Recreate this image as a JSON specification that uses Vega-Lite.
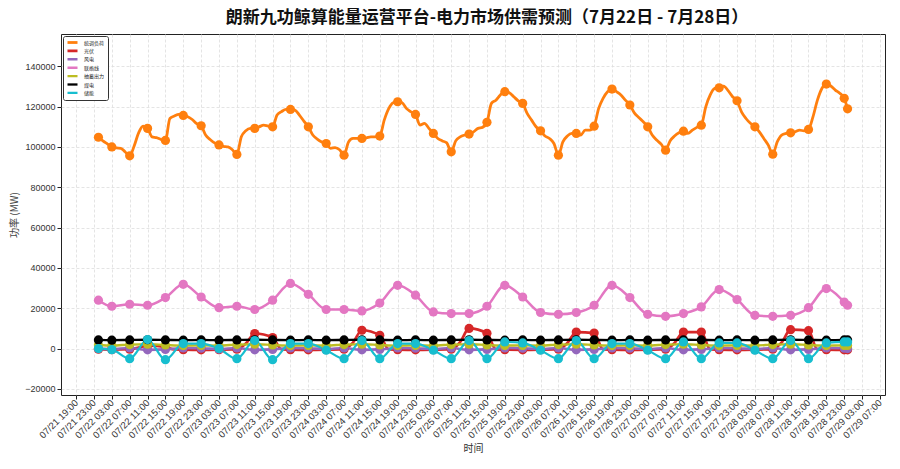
{
"$schema":"https://vega.github.io/schema/vega-lite/v6.json",
"width":824,"height":361,
"autosize":{"type":"none"},
"padding":{"left":61,"top":34,"right":15,"bottom":74},
"title":{"text":"朗新九功鲸算能量运营平台-电力市场供需预测（7月22日 - 7月28日）","font":"Noto Sans CJK SC","fontSize":17,"fontWeight":"bold","color":"#111","anchor":"middle","offset":7,"dx":14},
"data":{"format":{"parse":{"t":"date"}},"values":[
{"t":"2025-07-22T00:00","s":"统调负荷","v":104800},{"t":"2025-07-22T01:00","s":"统调负荷","v":103000},{"t":"2025-07-22T02:00","s":"统调负荷","v":101500},{"t":"2025-07-22T03:00","s":"统调负荷","v":100000},{"t":"2025-07-22T04:00","s":"统调负荷","v":99500},{"t":"2025-07-22T05:00","s":"统调负荷","v":99300},{"t":"2025-07-22T06:00","s":"统调负荷","v":97500},{"t":"2025-07-22T07:00","s":"统调负荷","v":95600},{"t":"2025-07-22T08:00","s":"统调负荷","v":100500},{"t":"2025-07-22T09:00","s":"统调负荷","v":107000},{"t":"2025-07-22T10:00","s":"统调负荷","v":110300},{"t":"2025-07-22T11:00","s":"统调负荷","v":109200},{"t":"2025-07-22T12:00","s":"统调负荷","v":105000},{"t":"2025-07-22T13:00","s":"统调负荷","v":104600},{"t":"2025-07-22T14:00","s":"统调负荷","v":103700},{"t":"2025-07-22T15:00","s":"统调负荷","v":103200},{"t":"2025-07-22T16:00","s":"统调负荷","v":114100},{"t":"2025-07-22T17:00","s":"统调负荷","v":115300},{"t":"2025-07-22T18:00","s":"统调负荷","v":116100},{"t":"2025-07-22T19:00","s":"统调负荷","v":115600},{"t":"2025-07-22T20:00","s":"统调负荷","v":115000},{"t":"2025-07-22T21:00","s":"统调负荷","v":113600},{"t":"2025-07-22T22:00","s":"统调负荷","v":111600},{"t":"2025-07-22T23:00","s":"统调负荷","v":110500},
{"t":"2025-07-23T00:00","s":"统调负荷","v":105900},{"t":"2025-07-23T01:00","s":"统调负荷","v":103700},{"t":"2025-07-23T02:00","s":"统调负荷","v":102000},{"t":"2025-07-23T03:00","s":"统调负荷","v":101000},{"t":"2025-07-23T04:00","s":"统调负荷","v":100300},{"t":"2025-07-23T05:00","s":"统调负荷","v":100000},{"t":"2025-07-23T06:00","s":"统调负荷","v":98600},{"t":"2025-07-23T07:00","s":"统调负荷","v":96300},{"t":"2025-07-23T08:00","s":"统调负荷","v":105000},{"t":"2025-07-23T09:00","s":"统调负荷","v":108000},{"t":"2025-07-23T10:00","s":"统调负荷","v":109200},{"t":"2025-07-23T11:00","s":"统调负荷","v":109200},{"t":"2025-07-23T12:00","s":"统调负荷","v":110000},{"t":"2025-07-23T13:00","s":"统调负荷","v":110800},{"t":"2025-07-23T14:00","s":"统调负荷","v":110300},{"t":"2025-07-23T15:00","s":"统调负荷","v":110000},{"t":"2025-07-23T16:00","s":"统调负荷","v":115800},{"t":"2025-07-23T17:00","s":"统调负荷","v":117500},{"t":"2025-07-23T18:00","s":"统调负荷","v":118600},{"t":"2025-07-23T19:00","s":"统调负荷","v":118600},{"t":"2025-07-23T20:00","s":"统调负荷","v":118300},{"t":"2025-07-23T21:00","s":"统调负荷","v":115800},{"t":"2025-07-23T22:00","s":"统调负荷","v":112800},{"t":"2025-07-23T23:00","s":"统调负荷","v":110000},
{"t":"2025-07-24T00:00","s":"统调负荷","v":105900},{"t":"2025-07-24T01:00","s":"统调负荷","v":103900},{"t":"2025-07-24T02:00","s":"统调负荷","v":102500},{"t":"2025-07-24T03:00","s":"统调负荷","v":101700},{"t":"2025-07-24T04:00","s":"统调负荷","v":99300},{"t":"2025-07-24T05:00","s":"统调负荷","v":99700},{"t":"2025-07-24T06:00","s":"统调负荷","v":98600},{"t":"2025-07-24T07:00","s":"统调负荷","v":95900},{"t":"2025-07-24T08:00","s":"统调负荷","v":102500},{"t":"2025-07-24T09:00","s":"统调负荷","v":104200},{"t":"2025-07-24T10:00","s":"统调负荷","v":104200},{"t":"2025-07-24T11:00","s":"统调负荷","v":104200},{"t":"2025-07-24T12:00","s":"统调负荷","v":104500},{"t":"2025-07-24T13:00","s":"统调负荷","v":105000},{"t":"2025-07-24T14:00","s":"统调负荷","v":105000},{"t":"2025-07-24T15:00","s":"统调负荷","v":105400},{"t":"2025-07-24T16:00","s":"统调负荷","v":113300},{"t":"2025-07-24T17:00","s":"统调负荷","v":119000},{"t":"2025-07-24T18:00","s":"统调负荷","v":121900},{"t":"2025-07-24T19:00","s":"统调负荷","v":122400},{"t":"2025-07-24T20:00","s":"统调负荷","v":121900},{"t":"2025-07-24T21:00","s":"统调负荷","v":119000},{"t":"2025-07-24T22:00","s":"统调负荷","v":117400},{"t":"2025-07-24T23:00","s":"统调负荷","v":116100},
{"t":"2025-07-25T00:00","s":"统调负荷","v":110800},{"t":"2025-07-25T01:00","s":"统调负荷","v":111700},{"t":"2025-07-25T02:00","s":"统调负荷","v":109200},{"t":"2025-07-25T03:00","s":"统调负荷","v":106700},{"t":"2025-07-25T04:00","s":"统调负荷","v":104200},{"t":"2025-07-25T05:00","s":"统调负荷","v":103000},{"t":"2025-07-25T06:00","s":"统调负荷","v":102000},{"t":"2025-07-25T07:00","s":"统调负荷","v":97600},{"t":"2025-07-25T08:00","s":"统调负荷","v":103000},{"t":"2025-07-25T09:00","s":"统调负荷","v":105000},{"t":"2025-07-25T10:00","s":"统调负荷","v":105900},{"t":"2025-07-25T11:00","s":"统调负荷","v":106400},{"t":"2025-07-25T12:00","s":"统调负荷","v":107500},{"t":"2025-07-25T13:00","s":"统调负荷","v":109200},{"t":"2025-07-25T14:00","s":"统调负荷","v":109700},{"t":"2025-07-25T15:00","s":"统调负荷","v":112200},{"t":"2025-07-25T16:00","s":"统调负荷","v":121600},{"t":"2025-07-25T17:00","s":"统调负荷","v":123200},{"t":"2025-07-25T18:00","s":"统调负荷","v":125800},{"t":"2025-07-25T19:00","s":"统调负荷","v":127400},{"t":"2025-07-25T20:00","s":"统调负荷","v":126900},{"t":"2025-07-25T21:00","s":"统调负荷","v":124900},{"t":"2025-07-25T22:00","s":"统调负荷","v":122900},{"t":"2025-07-25T23:00","s":"统调负荷","v":121600},
{"t":"2025-07-26T00:00","s":"统调负荷","v":116600},{"t":"2025-07-26T01:00","s":"统调负荷","v":113300},{"t":"2025-07-26T02:00","s":"统调负荷","v":110000},{"t":"2025-07-26T03:00","s":"统调负荷","v":108000},{"t":"2025-07-26T04:00","s":"统调负荷","v":105400},{"t":"2025-07-26T05:00","s":"统调负荷","v":104200},{"t":"2025-07-26T06:00","s":"统调负荷","v":101700},{"t":"2025-07-26T07:00","s":"统调负荷","v":95900},{"t":"2025-07-26T08:00","s":"统调负荷","v":102500},{"t":"2025-07-26T09:00","s":"统调负荷","v":105400},{"t":"2025-07-26T10:00","s":"统调负荷","v":106700},{"t":"2025-07-26T11:00","s":"统调负荷","v":106700},{"t":"2025-07-26T12:00","s":"统调负荷","v":105900},{"t":"2025-07-26T13:00","s":"统调负荷","v":108300},{"t":"2025-07-26T14:00","s":"统调负荷","v":108300},{"t":"2025-07-26T15:00","s":"统调负荷","v":110300},{"t":"2025-07-26T16:00","s":"统调负荷","v":119000},{"t":"2025-07-26T17:00","s":"统调负荷","v":124100},{"t":"2025-07-26T18:00","s":"统调负荷","v":127400},{"t":"2025-07-26T19:00","s":"统调负荷","v":128700},{"t":"2025-07-26T20:00","s":"统调负荷","v":127400},{"t":"2025-07-26T21:00","s":"统调负荷","v":125800},{"t":"2025-07-26T22:00","s":"统调负荷","v":123200},{"t":"2025-07-26T23:00","s":"统调负荷","v":120800},
{"t":"2025-07-27T00:00","s":"统调负荷","v":116900},{"t":"2025-07-27T01:00","s":"统调负荷","v":114600},{"t":"2025-07-27T02:00","s":"统调负荷","v":112500},{"t":"2025-07-27T03:00","s":"统调负荷","v":110000},{"t":"2025-07-27T04:00","s":"统调负荷","v":105900},{"t":"2025-07-27T05:00","s":"统调负荷","v":103400},{"t":"2025-07-27T06:00","s":"统调负荷","v":101400},{"t":"2025-07-27T07:00","s":"统调负荷","v":98400},{"t":"2025-07-27T08:00","s":"统调负荷","v":103000},{"t":"2025-07-27T09:00","s":"统调负荷","v":105400},{"t":"2025-07-27T10:00","s":"统调负荷","v":107000},{"t":"2025-07-27T11:00","s":"统调负荷","v":107800},{"t":"2025-07-27T12:00","s":"统调负荷","v":106700},{"t":"2025-07-27T13:00","s":"统调负荷","v":108300},{"t":"2025-07-27T14:00","s":"统调负荷","v":109700},{"t":"2025-07-27T15:00","s":"统调负荷","v":110800},{"t":"2025-07-27T16:00","s":"统调负荷","v":119900},{"t":"2025-07-27T17:00","s":"统调负荷","v":125800},{"t":"2025-07-27T18:00","s":"统调负荷","v":129000},{"t":"2025-07-27T19:00","s":"统调负荷","v":129300},{"t":"2025-07-27T20:00","s":"统调负荷","v":130200},{"t":"2025-07-27T21:00","s":"统调负荷","v":127900},{"t":"2025-07-27T22:00","s":"统调负荷","v":124900},{"t":"2025-07-27T23:00","s":"统调负荷","v":122900},
{"t":"2025-07-28T00:00","s":"统调负荷","v":117400},{"t":"2025-07-28T01:00","s":"统调负荷","v":114100},{"t":"2025-07-28T02:00","s":"统调负荷","v":111700},{"t":"2025-07-28T03:00","s":"统调负荷","v":110000},{"t":"2025-07-28T04:00","s":"统调负荷","v":107500},{"t":"2025-07-28T05:00","s":"统调负荷","v":104200},{"t":"2025-07-28T06:00","s":"统调负荷","v":100900},{"t":"2025-07-28T07:00","s":"统调负荷","v":96400},{"t":"2025-07-28T08:00","s":"统调负荷","v":102500},{"t":"2025-07-28T09:00","s":"统调负荷","v":105900},{"t":"2025-07-28T10:00","s":"统调负荷","v":106700},{"t":"2025-07-28T11:00","s":"统调负荷","v":107000},{"t":"2025-07-28T12:00","s":"统调负荷","v":107500},{"t":"2025-07-28T13:00","s":"统调负荷","v":108300},{"t":"2025-07-28T14:00","s":"统调负荷","v":108000},{"t":"2025-07-28T15:00","s":"统调负荷","v":108700},{"t":"2025-07-28T16:00","s":"统调负荷","v":114900},{"t":"2025-07-28T17:00","s":"统调负荷","v":123200},{"t":"2025-07-28T18:00","s":"统调负荷","v":129000},{"t":"2025-07-28T19:00","s":"统调负荷","v":131200},{"t":"2025-07-28T20:00","s":"统调负荷","v":130200},{"t":"2025-07-28T21:00","s":"统调负荷","v":128200},{"t":"2025-07-28T22:00","s":"统调负荷","v":126600},{"t":"2025-07-28T23:00","s":"统调负荷","v":124100},{"t":"2025-07-28T23:45","s":"统调负荷","v":118900},

{"t":"2025-07-22T00:00","s":"光伏","v":-300},{"t":"2025-07-22T03:00","s":"光伏","v":-500},{"t":"2025-07-22T07:00","s":"光伏","v":-300},{"t":"2025-07-22T09:00","s":"光伏","v":500},{"t":"2025-07-22T11:00","s":"光伏","v":1500},{"t":"2025-07-22T15:00","s":"光伏","v":800},{"t":"2025-07-22T17:00","s":"光伏","v":-400},{"t":"2025-07-22T19:00","s":"光伏","v":-500},{"t":"2025-07-22T23:00","s":"光伏","v":-600},
{"t":"2025-07-23T03:00","s":"光伏","v":-500},{"t":"2025-07-23T07:00","s":"光伏","v":-300},{"t":"2025-07-23T09:00","s":"光伏","v":2500},{"t":"2025-07-23T11:00","s":"光伏","v":7500},{"t":"2025-07-23T15:00","s":"光伏","v":5500},{"t":"2025-07-23T17:00","s":"光伏","v":-400},{"t":"2025-07-23T19:00","s":"光伏","v":-500},{"t":"2025-07-23T23:00","s":"光伏","v":-600},
{"t":"2025-07-24T03:00","s":"光伏","v":-500},{"t":"2025-07-24T07:00","s":"光伏","v":-300},{"t":"2025-07-24T09:00","s":"光伏","v":3000},{"t":"2025-07-24T11:00","s":"光伏","v":9100},{"t":"2025-07-24T15:00","s":"光伏","v":6600},{"t":"2025-07-24T17:00","s":"光伏","v":-400},{"t":"2025-07-24T19:00","s":"光伏","v":-500},{"t":"2025-07-24T23:00","s":"光伏","v":-600},
{"t":"2025-07-25T03:00","s":"光伏","v":-500},{"t":"2025-07-25T07:00","s":"光伏","v":-300},{"t":"2025-07-25T09:00","s":"光伏","v":3300},{"t":"2025-07-25T11:00","s":"光伏","v":10000},{"t":"2025-07-25T15:00","s":"光伏","v":7600},{"t":"2025-07-25T17:00","s":"光伏","v":-400},{"t":"2025-07-25T19:00","s":"光伏","v":-500},{"t":"2025-07-25T23:00","s":"光伏","v":-600},
{"t":"2025-07-26T03:00","s":"光伏","v":-500},{"t":"2025-07-26T07:00","s":"光伏","v":-300},{"t":"2025-07-26T09:00","s":"光伏","v":2800},{"t":"2025-07-26T11:00","s":"光伏","v":8200},{"t":"2025-07-26T15:00","s":"光伏","v":7700},{"t":"2025-07-26T17:00","s":"光伏","v":-400},{"t":"2025-07-26T19:00","s":"光伏","v":-500},{"t":"2025-07-26T23:00","s":"光伏","v":-600},
{"t":"2025-07-27T03:00","s":"光伏","v":-500},{"t":"2025-07-27T07:00","s":"光伏","v":-300},{"t":"2025-07-27T09:00","s":"光伏","v":2800},{"t":"2025-07-27T11:00","s":"光伏","v":8200},{"t":"2025-07-27T15:00","s":"光伏","v":8200},{"t":"2025-07-27T17:00","s":"光伏","v":-400},{"t":"2025-07-27T19:00","s":"光伏","v":-500},{"t":"2025-07-27T23:00","s":"光伏","v":-600},
{"t":"2025-07-28T03:00","s":"光伏","v":-500},{"t":"2025-07-28T07:00","s":"光伏","v":-300},{"t":"2025-07-28T09:00","s":"光伏","v":3100},{"t":"2025-07-28T11:00","s":"光伏","v":9400},{"t":"2025-07-28T15:00","s":"光伏","v":8900},{"t":"2025-07-28T17:00","s":"光伏","v":-400},{"t":"2025-07-28T19:00","s":"光伏","v":-500},{"t":"2025-07-28T23:00","s":"光伏","v":-600},{"t":"2025-07-28T23:45","s":"光伏","v":-600},

{"t":"2025-07-22T00:00","s":"风电","v":0},{"t":"2025-07-22T03:00","s":"风电","v":-200},{"t":"2025-07-22T07:00","s":"风电","v":300},{"t":"2025-07-22T11:00","s":"风电","v":-600},{"t":"2025-07-22T15:00","s":"风电","v":-400},{"t":"2025-07-22T19:00","s":"风电","v":300},{"t":"2025-07-22T23:00","s":"风电","v":200},
{"t":"2025-07-23T03:00","s":"风电","v":-200},{"t":"2025-07-23T07:00","s":"风电","v":300},{"t":"2025-07-23T11:00","s":"风电","v":-600},{"t":"2025-07-23T15:00","s":"风电","v":-400},{"t":"2025-07-23T19:00","s":"风电","v":300},{"t":"2025-07-23T23:00","s":"风电","v":200},
{"t":"2025-07-24T03:00","s":"风电","v":-200},{"t":"2025-07-24T07:00","s":"风电","v":300},{"t":"2025-07-24T11:00","s":"风电","v":-600},{"t":"2025-07-24T15:00","s":"风电","v":-400},{"t":"2025-07-24T19:00","s":"风电","v":300},{"t":"2025-07-24T23:00","s":"风电","v":200},
{"t":"2025-07-25T03:00","s":"风电","v":-200},{"t":"2025-07-25T07:00","s":"风电","v":300},{"t":"2025-07-25T11:00","s":"风电","v":-600},{"t":"2025-07-25T15:00","s":"风电","v":-400},{"t":"2025-07-25T19:00","s":"风电","v":300},{"t":"2025-07-25T23:00","s":"风电","v":200},
{"t":"2025-07-26T03:00","s":"风电","v":-200},{"t":"2025-07-26T07:00","s":"风电","v":300},{"t":"2025-07-26T11:00","s":"风电","v":-600},{"t":"2025-07-26T15:00","s":"风电","v":-400},{"t":"2025-07-26T19:00","s":"风电","v":300},{"t":"2025-07-26T23:00","s":"风电","v":200},
{"t":"2025-07-27T03:00","s":"风电","v":-200},{"t":"2025-07-27T07:00","s":"风电","v":300},{"t":"2025-07-27T11:00","s":"风电","v":-600},{"t":"2025-07-27T15:00","s":"风电","v":-400},{"t":"2025-07-27T19:00","s":"风电","v":300},{"t":"2025-07-27T23:00","s":"风电","v":200},
{"t":"2025-07-28T03:00","s":"风电","v":-200},{"t":"2025-07-28T07:00","s":"风电","v":300},{"t":"2025-07-28T11:00","s":"风电","v":-600},{"t":"2025-07-28T15:00","s":"风电","v":-400},{"t":"2025-07-28T19:00","s":"风电","v":300},{"t":"2025-07-28T23:00","s":"风电","v":200},{"t":"2025-07-28T23:45","s":"风电","v":0},

{"t":"2025-07-22T00:00","s":"联络线","v":24000},{"t":"2025-07-22T03:00","s":"联络线","v":21000},{"t":"2025-07-22T07:00","s":"联络线","v":22000},{"t":"2025-07-22T11:00","s":"联络线","v":21500},{"t":"2025-07-22T15:00","s":"联络线","v":25300},{"t":"2025-07-22T19:00","s":"联络线","v":31900},{"t":"2025-07-22T23:00","s":"联络线","v":25600},
{"t":"2025-07-23T03:00","s":"联络线","v":20300},{"t":"2025-07-23T07:00","s":"联络线","v":21000},{"t":"2025-07-23T11:00","s":"联络线","v":19400},{"t":"2025-07-23T15:00","s":"联络线","v":24000},{"t":"2025-07-23T19:00","s":"联络线","v":32300},{"t":"2025-07-23T23:00","s":"联络线","v":26900},
{"t":"2025-07-24T03:00","s":"联络线","v":19400},{"t":"2025-07-24T07:00","s":"联络线","v":19400},{"t":"2025-07-24T11:00","s":"联络线","v":18700},{"t":"2025-07-24T15:00","s":"联络线","v":22600},{"t":"2025-07-24T19:00","s":"联络线","v":31400},{"t":"2025-07-24T23:00","s":"联络线","v":26500},
{"t":"2025-07-25T03:00","s":"联络线","v":18200},{"t":"2025-07-25T07:00","s":"联络线","v":17400},{"t":"2025-07-25T11:00","s":"联络线","v":17400},{"t":"2025-07-25T15:00","s":"联络线","v":21000},{"t":"2025-07-25T19:00","s":"联络线","v":31400},{"t":"2025-07-25T23:00","s":"联络线","v":25600},
{"t":"2025-07-26T03:00","s":"联络线","v":17900},{"t":"2025-07-26T07:00","s":"联络线","v":17000},{"t":"2025-07-26T11:00","s":"联络线","v":17900},{"t":"2025-07-26T15:00","s":"联络线","v":21500},{"t":"2025-07-26T19:00","s":"联络线","v":31400},{"t":"2025-07-26T23:00","s":"联络线","v":25300},
{"t":"2025-07-27T03:00","s":"联络线","v":17000},{"t":"2025-07-27T07:00","s":"联络线","v":16000},{"t":"2025-07-27T11:00","s":"联络线","v":17400},{"t":"2025-07-27T15:00","s":"联络线","v":20700},{"t":"2025-07-27T19:00","s":"联络线","v":29300},{"t":"2025-07-27T23:00","s":"联络线","v":24300},
{"t":"2025-07-28T03:00","s":"联络线","v":16500},{"t":"2025-07-28T07:00","s":"联络线","v":16000},{"t":"2025-07-28T11:00","s":"联络线","v":16500},{"t":"2025-07-28T15:00","s":"联络线","v":20300},{"t":"2025-07-28T19:00","s":"联络线","v":29800},{"t":"2025-07-28T23:00","s":"联络线","v":23100},{"t":"2025-07-28T23:45","s":"联络线","v":21500},

{"t":"2025-07-22T00:00","s":"抽蓄出力","v":1800},{"t":"2025-07-22T03:00","s":"抽蓄出力","v":1500},{"t":"2025-07-22T07:00","s":"抽蓄出力","v":2000},{"t":"2025-07-22T11:00","s":"抽蓄出力","v":2200},{"t":"2025-07-22T15:00","s":"抽蓄出力","v":1800},{"t":"2025-07-22T19:00","s":"抽蓄出力","v":1500},{"t":"2025-07-22T23:00","s":"抽蓄出力","v":1600},
{"t":"2025-07-23T03:00","s":"抽蓄出力","v":1500},{"t":"2025-07-23T07:00","s":"抽蓄出力","v":2000},{"t":"2025-07-23T11:00","s":"抽蓄出力","v":2200},{"t":"2025-07-23T15:00","s":"抽蓄出力","v":1800},{"t":"2025-07-23T19:00","s":"抽蓄出力","v":1500},{"t":"2025-07-23T23:00","s":"抽蓄出力","v":1600},
{"t":"2025-07-24T03:00","s":"抽蓄出力","v":1500},{"t":"2025-07-24T07:00","s":"抽蓄出力","v":2000},{"t":"2025-07-24T11:00","s":"抽蓄出力","v":2200},{"t":"2025-07-24T15:00","s":"抽蓄出力","v":1800},{"t":"2025-07-24T19:00","s":"抽蓄出力","v":1500},{"t":"2025-07-24T23:00","s":"抽蓄出力","v":1600},
{"t":"2025-07-25T03:00","s":"抽蓄出力","v":1500},{"t":"2025-07-25T07:00","s":"抽蓄出力","v":2000},{"t":"2025-07-25T11:00","s":"抽蓄出力","v":2200},{"t":"2025-07-25T15:00","s":"抽蓄出力","v":1800},{"t":"2025-07-25T19:00","s":"抽蓄出力","v":1500},{"t":"2025-07-25T23:00","s":"抽蓄出力","v":1600},
{"t":"2025-07-26T03:00","s":"抽蓄出力","v":1500},{"t":"2025-07-26T07:00","s":"抽蓄出力","v":2000},{"t":"2025-07-26T11:00","s":"抽蓄出力","v":2200},{"t":"2025-07-26T15:00","s":"抽蓄出力","v":1800},{"t":"2025-07-26T19:00","s":"抽蓄出力","v":1500},{"t":"2025-07-26T23:00","s":"抽蓄出力","v":1600},
{"t":"2025-07-27T03:00","s":"抽蓄出力","v":1500},{"t":"2025-07-27T07:00","s":"抽蓄出力","v":2000},{"t":"2025-07-27T11:00","s":"抽蓄出力","v":2200},{"t":"2025-07-27T15:00","s":"抽蓄出力","v":1800},{"t":"2025-07-27T19:00","s":"抽蓄出力","v":1500},{"t":"2025-07-27T23:00","s":"抽蓄出力","v":1600},
{"t":"2025-07-28T03:00","s":"抽蓄出力","v":1500},{"t":"2025-07-28T07:00","s":"抽蓄出力","v":2000},{"t":"2025-07-28T11:00","s":"抽蓄出力","v":2200},{"t":"2025-07-28T15:00","s":"抽蓄出力","v":1800},{"t":"2025-07-28T19:00","s":"抽蓄出力","v":1500},{"t":"2025-07-28T23:00","s":"抽蓄出力","v":1600},{"t":"2025-07-28T23:45","s":"抽蓄出力","v":1600},

{"t":"2025-07-22T00:00","s":"煤电","v":4300},{"t":"2025-07-22T03:00","s":"煤电","v":4200},{"t":"2025-07-22T07:00","s":"煤电","v":4300},{"t":"2025-07-22T11:00","s":"煤电","v":4400},{"t":"2025-07-22T15:00","s":"煤电","v":4300},{"t":"2025-07-22T19:00","s":"煤电","v":4200},{"t":"2025-07-22T23:00","s":"煤电","v":4300},
{"t":"2025-07-23T03:00","s":"煤电","v":4200},{"t":"2025-07-23T07:00","s":"煤电","v":4300},{"t":"2025-07-23T11:00","s":"煤电","v":4400},{"t":"2025-07-23T15:00","s":"煤电","v":4300},{"t":"2025-07-23T19:00","s":"煤电","v":4200},{"t":"2025-07-23T23:00","s":"煤电","v":4300},
{"t":"2025-07-24T03:00","s":"煤电","v":4200},{"t":"2025-07-24T07:00","s":"煤电","v":4300},{"t":"2025-07-24T11:00","s":"煤电","v":4400},{"t":"2025-07-24T15:00","s":"煤电","v":4300},{"t":"2025-07-24T19:00","s":"煤电","v":4200},{"t":"2025-07-24T23:00","s":"煤电","v":4300},
{"t":"2025-07-25T03:00","s":"煤电","v":4200},{"t":"2025-07-25T07:00","s":"煤电","v":4300},{"t":"2025-07-25T11:00","s":"煤电","v":4400},{"t":"2025-07-25T15:00","s":"煤电","v":4300},{"t":"2025-07-25T19:00","s":"煤电","v":4200},{"t":"2025-07-25T23:00","s":"煤电","v":4300},
{"t":"2025-07-26T03:00","s":"煤电","v":4200},{"t":"2025-07-26T07:00","s":"煤电","v":4300},{"t":"2025-07-26T11:00","s":"煤电","v":4400},{"t":"2025-07-26T15:00","s":"煤电","v":4300},{"t":"2025-07-26T19:00","s":"煤电","v":4200},{"t":"2025-07-26T23:00","s":"煤电","v":4300},
{"t":"2025-07-27T03:00","s":"煤电","v":4200},{"t":"2025-07-27T07:00","s":"煤电","v":4300},{"t":"2025-07-27T11:00","s":"煤电","v":4400},{"t":"2025-07-27T15:00","s":"煤电","v":4300},{"t":"2025-07-27T19:00","s":"煤电","v":4200},{"t":"2025-07-27T23:00","s":"煤电","v":4300},
{"t":"2025-07-28T03:00","s":"煤电","v":4200},{"t":"2025-07-28T07:00","s":"煤电","v":4300},{"t":"2025-07-28T11:00","s":"煤电","v":4400},{"t":"2025-07-28T15:00","s":"煤电","v":4300},{"t":"2025-07-28T19:00","s":"煤电","v":4200},{"t":"2025-07-28T23:00","s":"煤电","v":4300},{"t":"2025-07-28T23:45","s":"煤电","v":4300},

{"t":"2025-07-22T00:00","s":"储能","v":0},{"t":"2025-07-22T03:00","s":"储能","v":-500},{"t":"2025-07-22T07:00","s":"储能","v":-5000},{"t":"2025-07-22T11:00","s":"储能","v":4500},{"t":"2025-07-22T15:00","s":"储能","v":-5500},{"t":"2025-07-22T19:00","s":"储能","v":2500},{"t":"2025-07-22T23:00","s":"储能","v":2500},
{"t":"2025-07-23T03:00","s":"储能","v":0},{"t":"2025-07-23T07:00","s":"储能","v":-5000},{"t":"2025-07-23T11:00","s":"储能","v":4000},{"t":"2025-07-23T15:00","s":"储能","v":-5500},{"t":"2025-07-23T19:00","s":"储能","v":2500},{"t":"2025-07-23T23:00","s":"储能","v":2500},
{"t":"2025-07-24T03:00","s":"储能","v":-800},{"t":"2025-07-24T07:00","s":"储能","v":-5000},{"t":"2025-07-24T11:00","s":"储能","v":4000},{"t":"2025-07-24T15:00","s":"储能","v":-5000},{"t":"2025-07-24T19:00","s":"储能","v":2500},{"t":"2025-07-24T23:00","s":"储能","v":2500},
{"t":"2025-07-25T03:00","s":"储能","v":-800},{"t":"2025-07-25T07:00","s":"储能","v":-5000},{"t":"2025-07-25T11:00","s":"储能","v":4000},{"t":"2025-07-25T15:00","s":"储能","v":-5000},{"t":"2025-07-25T19:00","s":"储能","v":3300},{"t":"2025-07-25T23:00","s":"储能","v":2800},
{"t":"2025-07-26T03:00","s":"储能","v":-800},{"t":"2025-07-26T07:00","s":"储能","v":-5000},{"t":"2025-07-26T11:00","s":"储能","v":4000},{"t":"2025-07-26T15:00","s":"储能","v":-5000},{"t":"2025-07-26T19:00","s":"储能","v":2500},{"t":"2025-07-26T23:00","s":"储能","v":2500},
{"t":"2025-07-27T03:00","s":"储能","v":-800},{"t":"2025-07-27T07:00","s":"储能","v":-5000},{"t":"2025-07-27T11:00","s":"储能","v":3300},{"t":"2025-07-27T15:00","s":"储能","v":-5000},{"t":"2025-07-27T19:00","s":"储能","v":2800},{"t":"2025-07-27T23:00","s":"储能","v":2800},
{"t":"2025-07-28T03:00","s":"储能","v":-800},{"t":"2025-07-28T07:00","s":"储能","v":-5000},{"t":"2025-07-28T11:00","s":"储能","v":4000},{"t":"2025-07-28T15:00","s":"储能","v":-5000},{"t":"2025-07-28T19:00","s":"储能","v":2800},{"t":"2025-07-28T23:00","s":"储能","v":3300},{"t":"2025-07-28T23:45","s":"储能","v":3300}
]},
"encoding":{
 "x":{"field":"t","type":"temporal","title":"时间",
  "scale":{"domain":[{"year":2025,"month":7,"date":21,"hours":15,"minutes":37},{"year":2025,"month":7,"date":29,"hours":8,"minutes":8}]},
  "axis":{"format":"%m/%d %H:%M","labelAngle":-45,"labelAlign":"right","labelBaseline":"middle","labelPadding":2,"labelFontSize":9.5,"labelFont":"Liberation Sans","labelColor":"#333","tickSize":4,"tickColor":"#222","domain":false,"titleFont":"Noto Sans CJK SC","titleFontSize":10,"titleFontWeight":"normal","titleColor":"#333","titlePadding":4,
   "grid":true,"gridColor":"#dddddd","gridDash":[3,2],"gridWidth":0.8,"labelOverlap":false,
   "values":[{"year":2025,"month":7,"date":21,"hours":19},{"year":2025,"month":7,"date":21,"hours":23},
   {"year":2025,"month":7,"date":22,"hours":3},{"year":2025,"month":7,"date":22,"hours":7},{"year":2025,"month":7,"date":22,"hours":11},{"year":2025,"month":7,"date":22,"hours":15},{"year":2025,"month":7,"date":22,"hours":19},{"year":2025,"month":7,"date":22,"hours":23},
   {"year":2025,"month":7,"date":23,"hours":3},{"year":2025,"month":7,"date":23,"hours":7},{"year":2025,"month":7,"date":23,"hours":11},{"year":2025,"month":7,"date":23,"hours":15},{"year":2025,"month":7,"date":23,"hours":19},{"year":2025,"month":7,"date":23,"hours":23},
   {"year":2025,"month":7,"date":24,"hours":3},{"year":2025,"month":7,"date":24,"hours":7},{"year":2025,"month":7,"date":24,"hours":11},{"year":2025,"month":7,"date":24,"hours":15},{"year":2025,"month":7,"date":24,"hours":19},{"year":2025,"month":7,"date":24,"hours":23},
   {"year":2025,"month":7,"date":25,"hours":3},{"year":2025,"month":7,"date":25,"hours":7},{"year":2025,"month":7,"date":25,"hours":11},{"year":2025,"month":7,"date":25,"hours":15},{"year":2025,"month":7,"date":25,"hours":19},{"year":2025,"month":7,"date":25,"hours":23},
   {"year":2025,"month":7,"date":26,"hours":3},{"year":2025,"month":7,"date":26,"hours":7},{"year":2025,"month":7,"date":26,"hours":11},{"year":2025,"month":7,"date":26,"hours":15},{"year":2025,"month":7,"date":26,"hours":19},{"year":2025,"month":7,"date":26,"hours":23},
   {"year":2025,"month":7,"date":27,"hours":3},{"year":2025,"month":7,"date":27,"hours":7},{"year":2025,"month":7,"date":27,"hours":11},{"year":2025,"month":7,"date":27,"hours":15},{"year":2025,"month":7,"date":27,"hours":19},{"year":2025,"month":7,"date":27,"hours":23},
   {"year":2025,"month":7,"date":28,"hours":3},{"year":2025,"month":7,"date":28,"hours":7},{"year":2025,"month":7,"date":28,"hours":11},{"year":2025,"month":7,"date":28,"hours":15},{"year":2025,"month":7,"date":28,"hours":19},{"year":2025,"month":7,"date":28,"hours":23},
   {"year":2025,"month":7,"date":29,"hours":3},{"year":2025,"month":7,"date":29,"hours":7}]}},
 "y":{"field":"v","type":"quantitative","title":"功率 (MW)",
  "scale":{"domain":[-23000,156000],"nice":false,"zero":false},
  "axis":{"values":[-20000,0,20000,40000,60000,80000,100000,120000,140000],"format":"d","labelFontSize":9,"labelFont":"Liberation Sans","labelColor":"#333","labelPadding":2,"tickSize":4,"tickColor":"#222","domain":false,"titleFont":"Noto Sans CJK SC","titleFontSize":10,"titleFontWeight":"normal","titleColor":"#444","titlePadding":5,
   "grid":true,"gridColor":"#dddddd","gridDash":[3,2],"gridWidth":0.8}}
},
"layer":[
 {"mark":{"type":"line","interpolate":"monotone"},
  "encoding":{
   "color":{"field":"s","type":"nominal","sort":null,
    "scale":{"domain":["统调负荷","光伏","风电","联络线","抽蓄出力","煤电","储能"],"range":["#ff7f0e","#d62728","#9467bd","#e377c2","#bcbd22","#000000","#17becf"]},
    "legend":{"title":null,"orient":"top-left","offset":2,"padding":3,"strokeColor":"#333","fillColor":"#ffffff","cornerRadius":2,"symbolType":"stroke","symbolStrokeWidth":2.5,"symbolSize":100,"labelFontSize":5,"labelFont":"Noto Sans CJK SC","labelColor":"#222","labelOffset":5,"rowPadding":1.4,"clipHeight":7,"labelLimit":60}},
   "strokeWidth":{"field":"s","type":"nominal","legend":null,
    "scale":{"domain":["统调负荷","光伏","风电","联络线","抽蓄出力","煤电","储能"],"range":[2.8,2.2,2.2,2.2,2.2,2.2,2.2]}}}},
 {"transform":[{"filter":"(indexof([3,7,11,15,19,23], hours(datum.t)) >= 0 && minutes(datum.t) == 0) || minutes(datum.t) == 45 || (date(datum.t) == 22 && hours(datum.t) == 0)"}],
  "mark":{"type":"circle","size":85,"opacity":1},
  "encoding":{
   "fill":{"field":"s","type":"nominal","legend":null,
    "scale":{"domain":["统调负荷","光伏","风电","联络线","抽蓄出力","煤电","储能"],"range":["#ff7f0e","#d62728","#9467bd","#e377c2","#bcbd22","#000000","#17becf"]}}}}
],
"config":{"view":{"stroke":"#222","strokeWidth":1},"background":"white","font":"Noto Sans CJK SC"}
}
